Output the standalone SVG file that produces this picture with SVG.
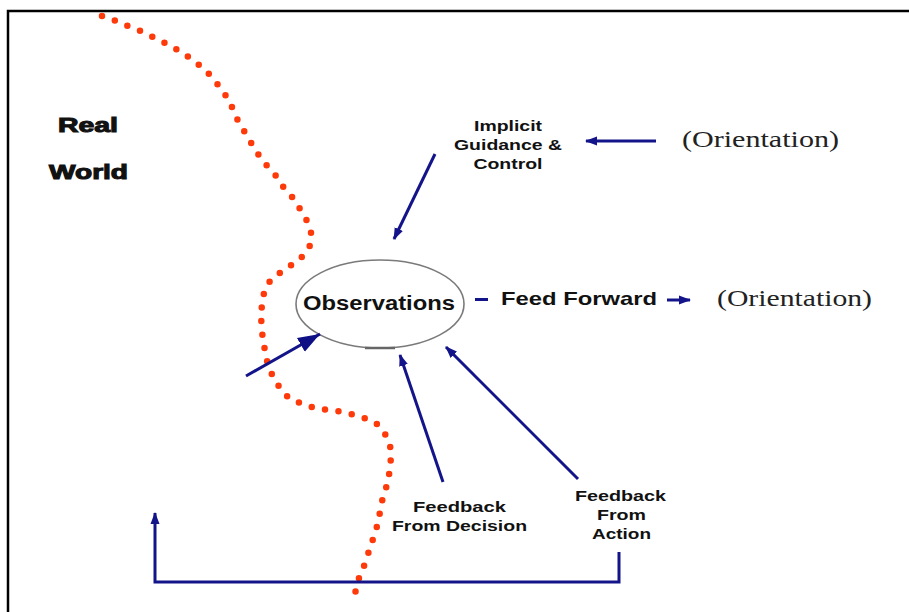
<svg xmlns="http://www.w3.org/2000/svg" width="909" height="612" viewBox="0 0 909 612">
<defs>
<style>
.lbl{font-family:"Liberation Sans",Arial,sans-serif;font-weight:bold;fill:#111;}
.heavy{stroke:#111;stroke-width:1.1;}
.orient{font-family:"Liberation Serif","Times New Roman",serif;fill:#222;}
.conn{stroke:#14148a;stroke-width:3;fill:none;}
</style>
<marker id="ah" markerUnits="userSpaceOnUse" markerWidth="14" markerHeight="12" refX="11" refY="6" orient="auto">
<path d="M0,1.5 L12,6 L0,10.5 Z" fill="#14148a"/>
</marker>
<marker id="ahBig" markerUnits="userSpaceOnUse" markerWidth="24" markerHeight="20" refX="22" refY="10" orient="auto">
<path d="M0,2 L22,10 L0,18 Z" fill="#0f0f85"/>
</marker>
</defs>
<rect width="909" height="612" fill="#fff"/>
<path d="M8,620 L8,11 L915,11" fill="none" stroke="#000" stroke-width="2.5"/>

<g id="boundary">
<polyline points="102,16 116,21 130,27 143,32 157,39 169,45 181,52 193,60 204,69 213,78 221,89 229,100 234,112 239,123 246,134 253,146 260,157 268,167 277,177 284,188 293,198 300,209 307,221 311,232 311,244 303,256 293,264 281,272 270,281 264,293 262,304 261,317 262,330 263,342 266,354 268,367 274,378 281,390 290,399 303,404 318,409 333,410 347,413 362,417 376,423 384,432 390,444 391,457 390,468 388,482 384,494 381,505 379,518 376,530 372,542 368,554 364,566 359,578 356,590 352,602" fill="none" stroke="#ff3a0a" stroke-width="6.5" stroke-linecap="round" stroke-dasharray="0 13.6"/>
</g>

<g id="real-world">
<text class="lbl heavy" x="88" y="132" font-size="21" text-anchor="middle" textLength="60" lengthAdjust="spacingAndGlyphs">Real</text>
<text class="lbl heavy" x="88.5" y="179" font-size="21" text-anchor="middle" textLength="79" lengthAdjust="spacingAndGlyphs">World</text>
</g>

<g id="observations">
<ellipse cx="380" cy="304" rx="84" ry="44" fill="#fff" stroke="#7a7a7a" stroke-width="1.6"/>
<path d="M365,348 L395,348" stroke="#666" stroke-width="2.5"/>
<text class="lbl" x="379" y="310" font-size="20" text-anchor="middle" textLength="152" lengthAdjust="spacingAndGlyphs">Observations</text>
</g>

<g id="implicit">
<text class="lbl" x="508" y="131" font-size="15" text-anchor="middle" textLength="68" lengthAdjust="spacingAndGlyphs">Implicit</text>
<text class="lbl" x="508" y="150" font-size="15" text-anchor="middle" textLength="108" lengthAdjust="spacingAndGlyphs">Guidance &amp;</text>
<text class="lbl" x="508" y="169" font-size="15" text-anchor="middle" textLength="69" lengthAdjust="spacingAndGlyphs">Control</text>
</g>

<g id="orientation-top">
<text class="orient" x="682" y="147" font-size="23" textLength="157" lengthAdjust="spacingAndGlyphs">(Orientation)</text>
</g>

<g id="feed-forward">
<text class="lbl" x="501" y="305" font-size="19" textLength="156" lengthAdjust="spacingAndGlyphs">Feed Forward</text>
</g>

<g id="orientation-right">
<text class="orient" x="717" y="306" font-size="23" textLength="155" lengthAdjust="spacingAndGlyphs">(Orientation)</text>
</g>

<g id="feedback-decision">
<text class="lbl" x="459.5" y="512" font-size="15" text-anchor="middle" textLength="93" lengthAdjust="spacingAndGlyphs">Feedback</text>
<text class="lbl" x="459.5" y="531" font-size="15" text-anchor="middle" textLength="135" lengthAdjust="spacingAndGlyphs">From Decision</text>
</g>

<g id="feedback-action">
<text class="lbl" x="620.5" y="501" font-size="15" text-anchor="middle" textLength="91" lengthAdjust="spacingAndGlyphs">Feedback</text>
<text class="lbl" x="621.5" y="520" font-size="15" text-anchor="middle" textLength="49" lengthAdjust="spacingAndGlyphs">From</text>
<text class="lbl" x="621.5" y="539" font-size="15" text-anchor="middle" textLength="59" lengthAdjust="spacingAndGlyphs">Action</text>
</g>

<g id="connectors">
<line class="conn" x1="435" y1="154" x2="394" y2="239" marker-end="url(#ah)"/>
<line class="conn" x1="656" y1="141" x2="586" y2="141" marker-end="url(#ah)"/>
<line class="conn" x1="246" y1="376" x2="320" y2="334" marker-end="url(#ahBig)"/>
<line class="conn" x1="475" y1="299.5" x2="488" y2="299.5" stroke-width="4"/>
<line class="conn" x1="667" y1="300" x2="690" y2="300" stroke-width="4" marker-end="url(#ah)"/>
<line class="conn" x1="443" y1="482" x2="400" y2="355" marker-end="url(#ah)"/>
<line class="conn" x1="578" y1="479" x2="446" y2="347" marker-end="url(#ah)"/>
<polyline class="conn" points="619,552 619,582 155,582 155,513" marker-end="url(#ah)"/>
</g>
</svg>
